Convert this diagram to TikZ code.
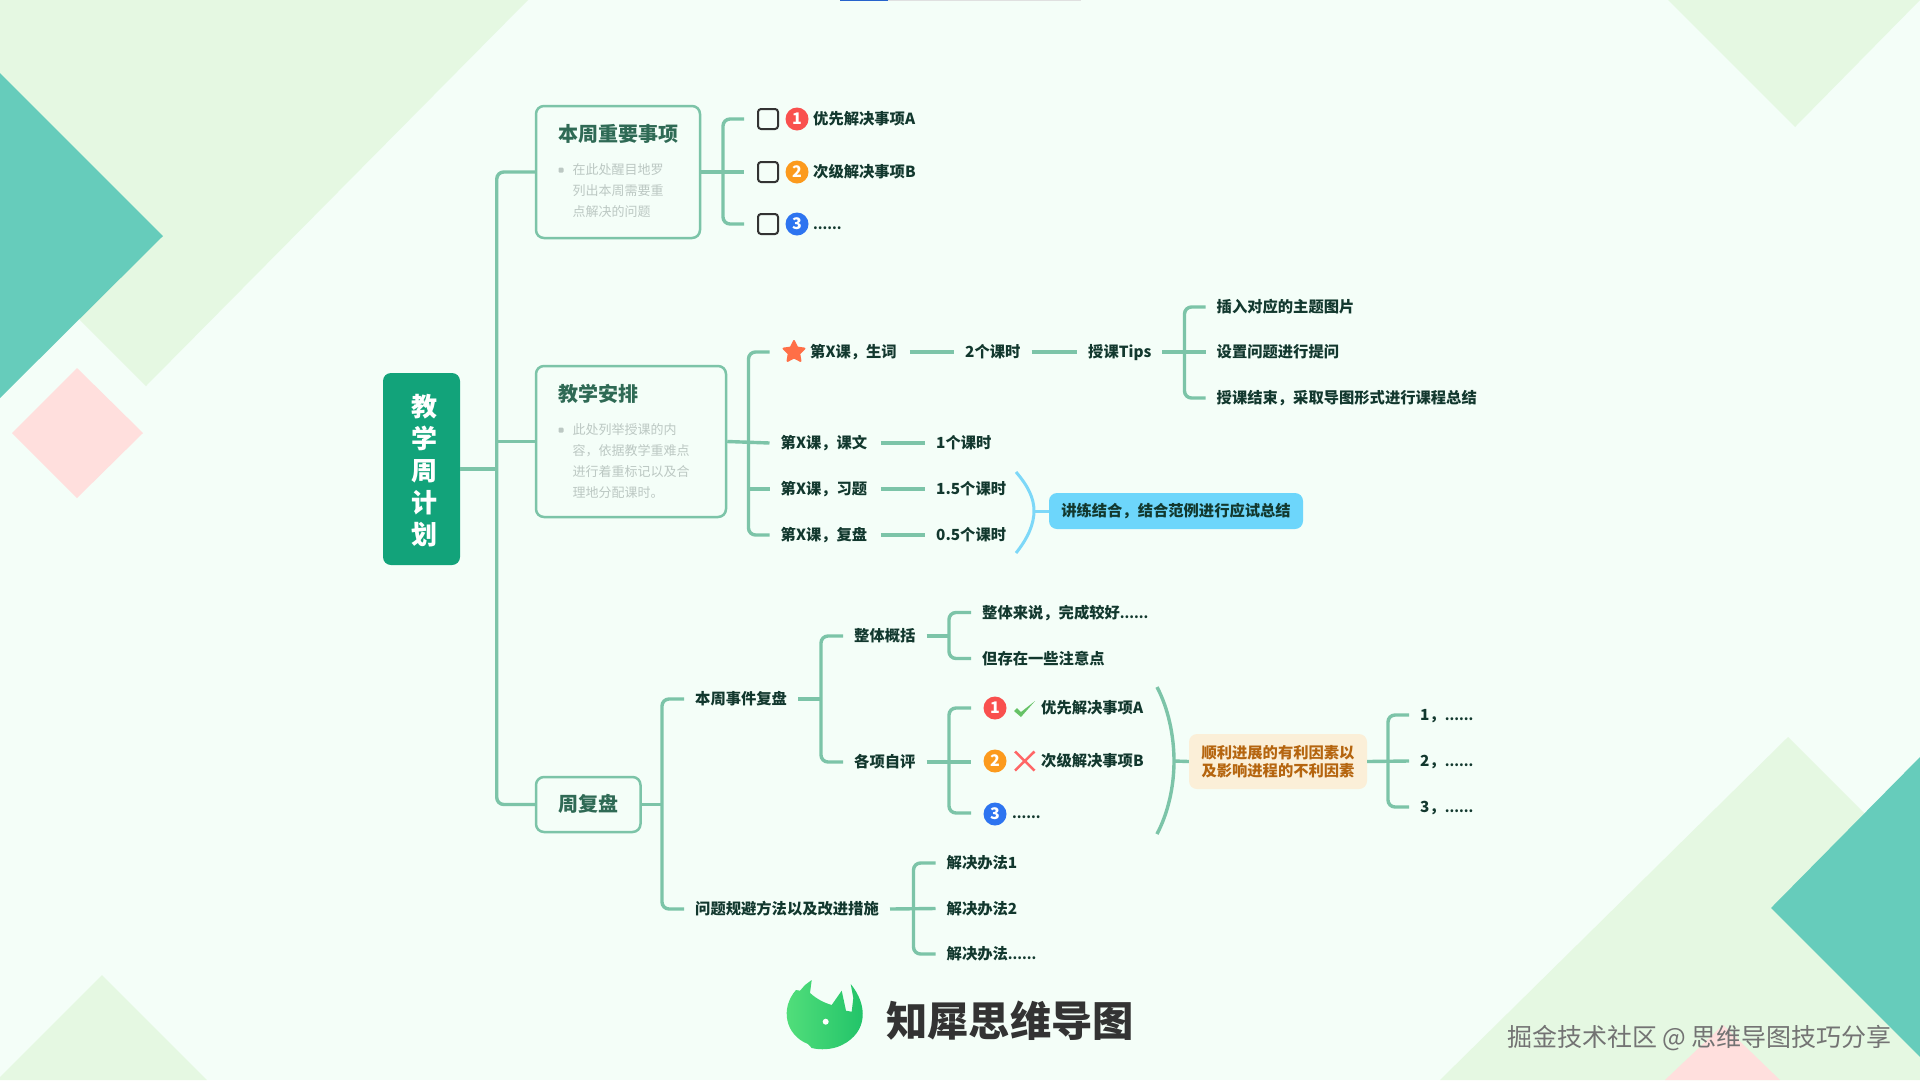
\documentclass[tikz,border=0pt]{standalone}
\usepackage{fontspec}
\setmainfont{Noto Sans CJK SC}
\usetikzlibrary{shapes.geometric}

\newcommand{\dotrow}{{\fontsize{13.5}{18}\selectfont......}}

\definecolor{paper}{HTML}{F4FEF8}
\definecolor{palegreen}{HTML}{E5F8E2}
\definecolor{teal}{HTML}{66CCBB}
\definecolor{palepink}{HTML}{FFDFDD}
\definecolor{linkgreen}{HTML}{7CC4A8}
\definecolor{rootgreen}{HTML}{12A37A}
\definecolor{titlegreen}{HTML}{2F6A55}
\definecolor{darkgreen}{HTML}{12382E}
\definecolor{bodygrey}{HTML}{BCC8C3}
\definecolor{numred}{HTML}{F9504E}
\definecolor{numorange}{HTML}{FC9A1D}
\definecolor{numblue}{HTML}{2D74F0}
\definecolor{skyblue}{HTML}{6DD6FB}
\definecolor{skyline}{HTML}{7DD8F8}
\definecolor{sand}{HTML}{FBEFD8}
\definecolor{rust}{HTML}{B5650F}
\definecolor{starred}{HTML}{FF6F47}
\definecolor{logoleft}{HTML}{55E07C}
\definecolor{logoright}{HTML}{1FC268}

\begin{document}
\begin{tikzpicture}[x=1pt, y=-1pt,
    link/.style={draw=linkgreen, line width=3.4pt},
    fork/.style={link, rounded corners=7pt},
    topicbox/.style={draw=linkgreen, line width=2.5pt, fill=paper, rounded corners=8pt, inner sep=0pt},
    title/.style={text=titlegreen, anchor=west, inner sep=0pt, font=\fontsize{20}{24}\selectfont\bfseries},
    body/.style={text=bodygrey, anchor=north west, inner sep=0pt, align=left, font=\fontsize{13}{21}\selectfont},
    bullet/.style={fill=bodygrey, rounded corners=1pt, minimum size=5pt, inner sep=0pt},
    item/.style={text=darkgreen, anchor=west, inner xsep=11pt, inner ysep=0pt, text height=13.5pt, text depth=1.8pt,
                 font=\fontsize{15.3}{18}\selectfont\bfseries},
    chk/.style={draw=black!80, line width=2pt, fill=paper, rounded corners=3pt, minimum size=20pt, inner sep=0pt, outer xsep=14pt},
    num/.style={circle, fill=#1, text=white, minimum size=23pt, inner sep=0pt, font=\fontsize{16}{16}\selectfont\bfseries}]

\useasboundingbox (0,0) rectangle (1920,1080);

% Background
\fill[paper] (0,0) rectangle (1920,1080);
\fill[palegreen] (0,0) -- (528,0) -- (146,386) -- (0,240) -- cycle;
\fill[teal] (0,73) -- (163,236) -- (0,398) -- cycle;
\fill[palepink] (12,433) -- (77,368) -- (143,433) -- (77,498) -- cycle;
\fill[palegreen] (1668,0) -- (1795,127) -- (1920,0) -- cycle;
\fill[palegreen] (0,1077) -- (102,975) -- (207,1080) -- (0,1080) -- cycle;
\fill[palegreen] (1788,737) -- (1920,869) -- (1920,1080) -- (1440,1080) -- cycle;
\fill[teal] (1920,757) -- (1771,908) -- (1920,1057) -- cycle;
\fill[palepink] (1723,1025) -- (1665,1080) -- (1780,1080) -- cycle;
\fill[black!12] (888,0) rectangle (1081,1);
\fill[numblue!85!black] (840,0) rectangle (888,1);

% Root
\node[fill=rootgreen, rounded corners=8pt, minimum width=77pt, minimum height=192pt, inner sep=0pt] (root) at (421.5,469) {};
\node[inner sep=0pt, text=white, align=center, font=\fontsize{26}{32}\selectfont\bfseries] (rootname) at (424,471) {教\\学\\周\\计\\划};

% Topic boxes
\node[topicbox, minimum width=164pt, minimum height=132pt] (boxA) at (618,172) {};
\node[topicbox, minimum width=190pt, minimum height=151pt] (boxB) at (631,441.5) {};
\node[topicbox, minimum width=104.5pt, minimum height=55pt] (boxC) at (588.25,804.5) {};

\draw[fork] (boxA.west) -- ++(-38,0) |- (boxC.west);
\draw[link] (boxB.west) -- ++(-38,0);
\draw[link] (root.east) -- ++(38,0);

\node[title] (titleA) at (558,133.5) {本周重要事项};
\node[bullet] (bulletA) at (561,170) {};
\node[body] (bodyA) at (572.5,163.5) {在此处醒目地罗\\列出本周需要重\\点解决的问题};

\node[title] (titleB) at (558,393.5) {教学安排};
\node[bullet] (bulletB) at (561,430) {};
\node[body] (bodyB) at (572.5,423.5) {此处列举授课的内\\容，依据教学重难点\\进行着重标记以及合\\理地分配课时。};

\node[title] (titleC) at (558,803.5) {周复盘};

% First branch
\foreach \i/\y in {1/119,2/172,3/224} {
    \node[chk] (chk\i) at (768,\y) {};
}
\node[num=numred] (numA1) at (797,119) {1};
\node[num=numorange] (numA2) at (797,172) {2};
\node[num=numblue] (numA3) at (797,224) {3};
\node[item] (itemA1) at (802,119) {优先解决事项A};
\node[item] (itemA2) at (802,171.5) {次级解决事项B};
\node[item] (itemA3) at (802,224) {\dotrow};

\draw[fork] (chk1.west) -- ++(-21,0) |- (chk3.west);
\draw[link] (boxA.east) -- (chk2.west);

% Second branch
\coordinate (starend) at (769.5,352);
\node[star, star points=5, star point ratio=2, draw=starred, line width=2pt, line join=round, fill=starred,
      minimum size=22pt, inner sep=0pt] (star) at (794,352) {};
\node[item] (lesA) at (799,352) {第X课，生词};
\node[item] (lesB) at (769.5,443) {第X课，课文};
\node[item] (lesC) at (769.5,489) {第X课，习题};
\node[item] (lesD) at (769.5,535) {第X课，复盘};
\node[item] (hourA) at (954,352) {2个课时};
\node[item] (tips) at (1077,352) {授课Tips};
\node[item] (hourB) at (925,443) {1个课时};
\node[item] (hourC) at (925,489) {1.5个课时};
\node[item] (hourD) at (925,535) {0.5个课时};

\draw[fork] (starend) -- ++(-21,0) |- (lesD.west);
\draw[link] (boxB.east) -- (lesB.west);
\draw[link] (lesC.west) -- ++(-21,0);
\draw[link, shorten <=2pt] (lesA.east) -- (hourA.west);
\draw[link] (hourA.east) -- (tips.west);
\draw[link, shorten <=2.5pt] (lesB.east) -- (hourB.west);
\draw[link, shorten <=2.5pt] (lesC.east) -- (hourC.west);
\draw[link, shorten <=2.5pt] (lesD.east) -- (hourD.west);

% Tips
\node[item] (tipA) at (1205.5,307) {插入对应的主题图片};
\node[item] (tipB) at (1205.5,352) {设置问题进行提问};
\node[item] (tipC) at (1205.5,398) {授课结束，采取导图形式进行课程总结};
\draw[fork] (tipA.west) -- ++(-21,0) |- (tipC.west);
\draw[link] (tips.east) -- (tipB.west);

% Summary of the two lessons
\node[fill=skyblue, rounded corners=8pt, minimum width=254pt, minimum height=36pt, inner sep=0pt, text=darkgreen,
      font=\fontsize{15.3}{18}\selectfont\bfseries] (drill) at (1176,511) {讲练结合，结合范例进行应试总结};
\coordinate (skytip) at (1034,511);
\draw[draw=skyline, line width=3pt] (1016,472) .. controls (1028,486) and (1034,498) .. (skytip)
    .. controls (1034,524) and (1028,538) .. (1016,553);
\draw[draw=skyline, line width=3pt] (skytip) -- (drill.west);

% Third branch
\node[item] (revA) at (684,699) {本周事件复盘};
\node[item] (revB) at (684,909) {问题规避方法以及改进措施};
\draw[fork] (revA.west) -- ++(-22,0) |- (revB.west);
\draw[link] (boxC.east) -- ++(21.5,0);

\node[item] (sumA) at (843,636) {整体概括};
\node[item] (sumB) at (843,762) {各项自评};
\draw[fork] (sumA.west) -- ++(-22,0) |- (sumB.west);
\draw[link] (revA.east) -- ++(22,0);

\node[item] (noteA) at (971,612.5) {整体来说，完成较好\dotrow};
\node[item] (noteB) at (971,658.5) {但存在一些注意点};
\draw[fork] (noteA.west) -- ++(-22,0) |- (noteB.west);
\draw[link] (sumA.east) -- ++(21,0);

\coordinate (markA) at (971,708);
\coordinate (markB) at (971,762);
\coordinate (markC) at (971,813);
\draw[fork] (markA) -- ++(-22,0) |- (markC);
\draw[link] (sumB.east) -- (markB);
\node[num=numred] (numB1) at (995,708) {1};
\node[num=numorange] (numB2) at (995,761) {2};
\node[num=numblue] (numB3) at (995,814) {3};
\fill[green!60!black!60!white] (1014,711) -- (1017,708) -- (1021,712) -- (1035,701) -- (1021,717) -- cycle;
\draw[draw=red!60!white, line width=2.5pt] (1015,751.5) -- (1034.5,770.5) (1034.5,751.5) -- (1015,770.5);
\node[item] (itemB1) at (1030,708) {优先解决事项A};
\node[item] (itemB2) at (1030,761) {次级解决事项B};
\node[item] (itemB3) at (1001,813) {\dotrow};

\node[item] (fixA) at (935.5,863) {解决办法1};
\node[item] (fixB) at (935.5,908.5) {解决办法2};
\node[item] (fixC) at (935.5,954) {解决办法\dotrow};
\draw[fork] (fixA.west) -- ++(-22,0) |- (fixC.west);
\draw[link] (revB.east) -- (fixB.west);

% Factors
\node[fill=sand, rounded corners=8pt, minimum width=178pt, minimum height=55pt, inner sep=0pt, text=rust, align=center,
      font=\fontsize{15.3}{17.5}\selectfont\bfseries] (factor) at (1278,761.5) {顺利进展的有利因素以\\及影响进程的不利因素};
\coordinate (parentip) at (1174,761);
\draw[link] (1157,687) .. controls (1168,708) and (1174,735) .. (parentip)
    .. controls (1174,787) and (1168,813) .. (1157,834);
\draw[link] (parentip) -- (factor.west);

\node[item] (factA) at (1409,715) {1，\dotrow};
\node[item] (factB) at (1409,761) {2，\dotrow};
\node[item] (factC) at (1409,807) {3，\dotrow};
\draw[fork] (factA.west) -- ++(-21,0) |- (factC.west);
\draw[link] (factor.east) -- (factB.west);

% Logo
\shade[left color=logoleft, right color=logoright]
    (811.7,980) -- (810,993) .. controls (818,1000) and (825,1003) .. (831.7,1005) -- (841.7,990.7) -- (846,1010.7) -- (851.7,1011.7)
    -- (853.3,998) -- (850.7,984)
    .. controls (868,1005) and (868,1032) .. (842,1045) .. controls (832,1050) and (820,1050) .. (811.7,1048)
    -- (808,1044) .. controls (785,1035) and (780,1008) .. (796,990) -- (800,990.7) -- (805,985) -- cycle;
\fill[white] (825.7,1021.7) circle (3);
\node[inner sep=0pt, text=black!80, font=\fontsize{41.3}{48}\selectfont\bfseries] (brand) at (1010,1021) {知犀思维导图};

% Watermark
\node[inner sep=0pt, text=black!55, font=\fontsize{25}{30}\selectfont] (mark) at (1699.5,1038) {掘金技术社区 @ 思维导图技巧分享};

\end{tikzpicture}
\end{document}
